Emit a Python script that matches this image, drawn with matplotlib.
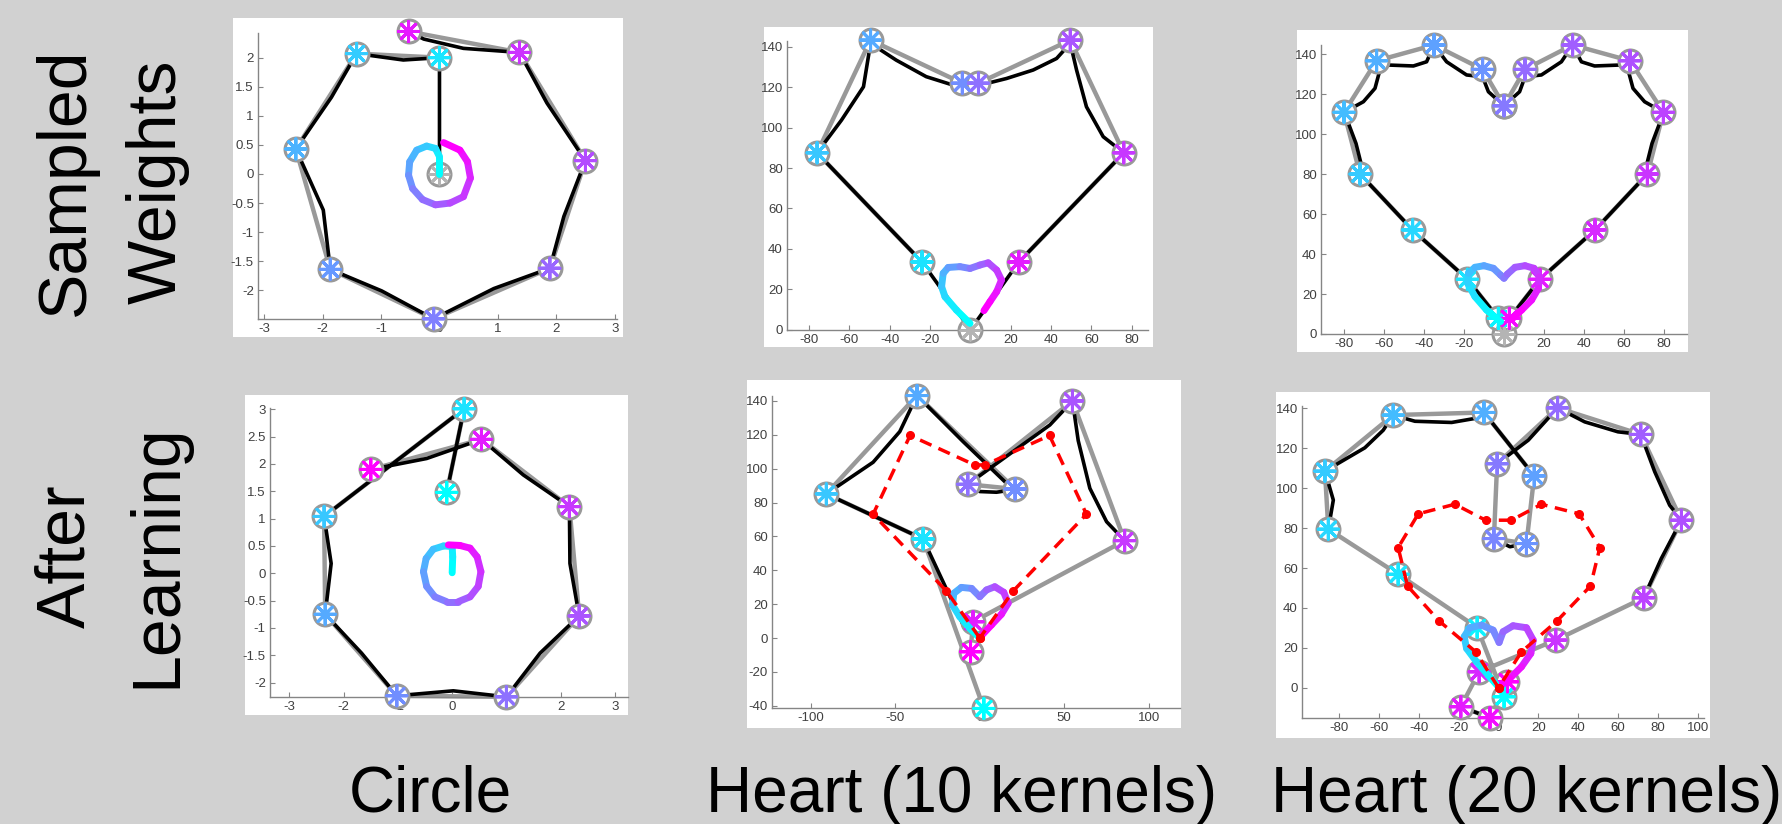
import matplotlib
matplotlib.use("Agg")
import matplotlib.pyplot as plt
import numpy as np
from matplotlib.collections import LineCollection
from matplotlib.patches import Rectangle
from matplotlib.ticker import FuncFormatter

plt.rcParams['font.family'] = ['Liberation Sans', 'DejaVu Sans']
plt.rcParams['axes.unicode_minus'] = False

# ---- Circle, sampled weights ----
circ_s_kx = [0.0, -1.42, -2.46, -1.87, -0.10, 1.89, 2.50, 1.37, -0.53]
circ_s_ky = [2.0, 2.07, 0.43, -1.64, -2.49, -1.62, 0.23, 2.09, 2.45]
circ_s_bx = [0, 0, -0.62, -1.42, -1.85, -2.46, -1.99, -1.87, -0.99, -0.10, 0.93, 1.89, 2.13, 2.50, 1.84, 1.37, 0.41, -0.27, -0.53]
circ_s_by = [0, 2.0, 1.96, 2.07, 1.32, 0.43, -0.62, -1.64, -2.01, -2.49, -1.97, -1.62, -0.73, 0.23, 1.22, 2.09, 2.16, 2.32, 2.45]
circ_s_tx = [0, 0, -0.07, -0.22, -0.39, -0.51, -0.53, -0.46, -0.29, -0.07, 0.18, 0.41, 0.53, 0.48, 0.35, 0.07]
circ_s_ty = [0, 0.30, 0.44, 0.48, 0.41, 0.21, -0.02, -0.25, -0.44, -0.53, -0.50, -0.39, -0.07, 0.21, 0.41, 0.54]

# ---- Heart 10 kernels, sampled weights ----
h10_s_kx = [-24.0, -76.0, -49.5, -4.0, 4.0, 49.5, 76.0, 24.0]
h10_s_ky = [33.5, 87.5, 143.3, 122.0, 122.0, 143.3, 87.5, 33.5]
h10_s_bx = [0, -24.0, -76.0, -63.9, -53.0, -49.5, -36.8, -21.9, -8.5, -0.2, 4.7, 17.9, 31.1, 42.7, 49.5, 52.6, 57.5, 65.8, 76.0, 24.0, 0]
h10_s_by = [0, 33.5, 87.5, 103.7, 120.2, 141.7, 133.4, 125.2, 121.0, 117.7, 121.0, 124.3, 128.5, 134.2, 141.7, 128.5, 110.3, 95.5, 87.5, 33.5, 0]
h10_s_tx = [-0.2, -6.9, -12.6, -14.3, -13.5, -11.0, -5.2, -0.2, 4.7, 8.8, 13.0, 15.4, 13.0, 9.7, 6.7]
h10_s_ty = [3.1, 9.7, 16.3, 21.3, 27.9, 30.8, 31.2, 30.3, 32.0, 33.1, 29.5, 24.6, 18.8, 13.9, 9.4]

# ---- Heart 20 kernels, sampled weights ----
h20_s_kx = [-2.8, -18.3, -45.7, -72.0, -80.0, -63.7, -35.0, -10.7, 0.0, 0.0, 10.5, 34.3, 63.0, 79.7, 71.7, 45.5, 18.0, 2.7]
h20_s_ky = [7.8, 27.4, 52.1, 80.1, 111.0, 136.8, 144.7, 132.5, 114.3, 114.3, 132.5, 144.7, 136.8, 111.0, 80.1, 52.1, 27.4, 7.8]
h20_s_bx = [0, -2.8, -18.3, -45.7, -72.0, -71.5, -74.0, -77.8, -80.0, -70.3, -64.5, -62.5, -63.7, -58.7, -45.3, -38.7,
            -35.0, -28.7, -18.7, -10.7, -7.8, 0, 7.8, 10.5, 18.7, 28.7, 34.3, 38.7, 45.3, 58.7, 63.0, 62.5, 64.5,
            70.3, 79.7, 77.8, 74.0, 71.5, 71.7, 45.5, 18.0, 2.7, 0]
h20_s_by = [0, 7.8, 27.4, 52.1, 80.1, 85.4, 95.4, 105.5, 111.0, 116.3, 123.0, 130.5, 136.8, 134.7, 134.2, 136.3,
            144.7, 136.3, 129.7, 128.8, 121.3, 114.3, 121.3, 128.8, 129.7, 136.3, 144.7, 136.3, 134.2, 134.7, 136.8,
            130.5, 123.0, 116.3, 111.0, 105.5, 95.4, 85.4, 80.1, 52.1, 27.4, 7.8, 0]
h20_s_tx = [-1.7, -8.7, -14.5, -18.2, -17.8, -14.5, -10.0, -5.3, -1.7, 0.0, 1.7, 5.5, 10.5, 15.0, 17.7, 17.2, 13.8, 8.8, 3.8]
h20_s_ty = [6.2, 12.0, 18.7, 25.4, 30.4, 33.4, 34.2, 32.9, 29.5, 27.9, 30.0, 33.4, 34.2, 32.9, 28.7, 22.9, 17.0, 12.0, 7.3]

# ---- Circle, after learning ----
circ_l_kx = [-0.10, 0.22, -2.36, -2.34, -1.02, 1.00, 2.34, 2.16, 0.54, -1.50]
circ_l_ky = [1.48, 3.01, 1.04, -0.75, -2.24, -2.26, -0.78, 1.22, 2.45, 1.90]
circ_l_bx = [-0.10, 0.22, -2.36, -2.23, -2.34, -1.67, -1.02, 0.02, 1.00, 1.62, 2.34, 2.17, 2.16, 1.31, 0.54, -0.47, -1.50]
circ_l_by = [1.48, 3.01, 1.04, 0.18, -0.75, -1.46, -2.24, -2.15, -2.26, -1.46, -0.78, 0.18, 1.22, 1.80, 2.45, 2.10, 1.90]
circ_l_tx = [0, 0.01, 0, -0.16, -0.35, -0.48, -0.53, -0.47, -0.32, -0.10, 0.11, 0.33, 0.48, 0.53, 0.46, 0.33, 0.14, -0.07]
circ_l_ty = [0.01, 0.30, 0.49, 0.50, 0.44, 0.27, 0.03, -0.24, -0.43, -0.52, -0.52, -0.43, -0.24, 0.03, 0.30, 0.46, 0.51, 0.52]

# ---- Heart 10 kernels, after learning ----
h10_l_kx = [2.4, -33.6, -90.9, -37.2, 20.9, -7.1, 54.9, 85.8, -4.0, -5.5]
h10_l_ky = [-41.6, 58.5, 85.1, 143.2, 88.0, 90.8, 140.0, 57.5, 9.6, -8.1]
h10_l_bx = [-8.9, -33.6, -90.9, -63.2, -47.4, -37.2, -9.9, 15.8, 18.8, 9.9, 0.0, -7.1, 23.7, 41.5, 54.9, 58.3, 65.2, 75.1, 85.8]
h10_l_by = [5.7, 58.5, 85.1, 103.8, 121.9, 143.2, 116.0, 91.4, 87.4, 86.1, 86.5, 90.8, 113.0, 125.8, 140.0, 116.6, 88.4, 68.7, 57.5]
h10_l_tx = [0, -5.9, -11.9, -16.2, -15.4, -10.9, -4.9, 0, 4.0, 8.9, 14.2, 16.8, 12.8, 6.9, 0.4]
h10_l_ty = [0, 5.7, 12.6, 19.5, 26.4, 29.9, 29.3, 24.4, 28.4, 30.3, 27.0, 20.5, 14.0, 7.7, 0.8]
h10_target_x = [0, -19.8, -63.2, -41.3, -3.0, 3.0, 41.3, 63.2, 19.8, 0]
h10_target_y = [0, 27.8, 73.1, 119.6, 102.2, 102.2, 119.6, 73.1, 27.8, 0]

# ---- Heart 20 kernels, after learning ----
h20_l_kx = [2.8, -10.7, -50.3, -85.3, -87.0, -52.8, -7.3, 17.9, 14.0, -2.3, -0.7, 29.6, 71.3, 91.7, 72.8, 28.7, -9.7, -18.9, -4.3, 4.5]
h20_l_ky = [-4.5, 30.2, 56.9, 79.5, 108.6, 136.7, 138.0, 106.2, 72.3, 74.8, 112.3, 140.3, 127.0, 84.0, 45.1, 23.9, 8.0, -9.5, -15.0, 3.0]
nan = np.nan
h20_l_bx = [-85.3, -82.8, -87.0, -67.0, -57.8, -52.8, -41.9, -23.5, -11.9, -7.3, 17.9, nan, 14.0, 5.7, -2.3, nan,
            -0.7, 14.9, 29.6, 43.2, 59.9, 71.3, 78.3, 85.8, 91.7, 81.6, 72.8, nan, -18.9, -4.3]
h20_l_by = [79.5, 94.1, 108.6, 120.3, 129.1, 136.7, 133.6, 133.0, 135.0, 138.0, 106.2, nan, 72.3, 70.7, 74.8, nan,
            112.3, 124.1, 140.3, 133.3, 128.3, 127.0, 108.3, 91.5, 84.0, 64.8, 45.1, nan, -9.5, -15.0]
h20_l_tx = [0, -5.2, -11.0, -16.0, -17.2, -14.4, -8.5, -2.7, 0.3, 2.3, 7.3, 14.0, 17.4, 16.2, 11.5, 5.7, 1.8]
h20_l_ty = [0.5, 6.3, 13.0, 19.7, 25.6, 30.1, 31.4, 28.9, 22.7, 28.1, 31.1, 30.1, 23.9, 17.2, 10.5, 4.7, 1.7]
h20_target_x = [0, -11.4, -29.7, -45.6, -50.3, -40.2, -21.9, -6.5, 6.5, 21.5, 40.4, 50.8, 46.1, 29.2, 11.5, 0]
h20_target_y = [0, 18.0, 33.4, 51.0, 70.3, 87.2, 92.0, 84.0, 84.0, 92.0, 87.2, 70.3, 51.0, 33.4, 18.0, 0]

row_labels = ["Sampled\nWeights", "After\nLearning"]
col_labels = ["Circle", "Heart (10 kernels)", "Heart (20 kernels)"]

W, H = 1783, 824
BG = '#d1d1d1'
GRAY = '#999999'
cmap = plt.get_cmap('cool')


def px_rect(x0, y0, x1, y1):
    return [x0 / W, 1 - y1 / H, (x1 - x0) / W, (y1 - y0) / H]


def draw_panel(ax, kx, ky, bx, by, tx, ty, sampled, target=None):
    n = len(kx)
    if sampled:
        cvals = np.arange(1, n + 1) / (n + 1)
    else:
        cvals = np.linspace(0, 1, n)
    ax.plot(kx, ky, color=GRAY, lw=3.2, zorder=2, clip_on=False,
            solid_joinstyle='round', solid_capstyle='round')
    ax.plot(bx, by, color='black', lw=2.6, zorder=3, clip_on=False,
            solid_joinstyle='round', solid_capstyle='round')
    if sampled:
        ax.plot([0], [0], 'o', ms=16.5, mfc='white', mec=GRAY, mew=2.2, zorder=4, clip_on=False)
        ax.scatter([0], [0], s=14 ** 2, marker=(8, 2, 0), color='#b4b4b4', linewidths=2.0,
                   zorder=5, clip_on=False)
    ax.plot(kx, ky, 'o', ms=16.5, mfc='white', mec=GRAY, mew=2.2, zorder=4, clip_on=False, ls='none')
    ax.scatter(kx, ky, s=14.5 ** 2, marker=(8, 2, 0), color=cmap(cvals), linewidths=2.2,
               zorder=5, clip_on=False)
    pts = np.column_stack([tx, ty])
    segs = np.stack([pts[:-1], pts[1:]], axis=1)
    lc = LineCollection(segs, colors=cmap(np.linspace(0, 1, len(segs))), linewidths=5.0,
                        capstyle='round', joinstyle='round', zorder=6, clip_on=False)
    ax.add_collection(lc)
    if target is not None:
        ax.plot(target[0], target[1], color='red', lw=2.5, dashes=(3.6, 2.2), zorder=7,
                marker='o', ms=5.5, clip_on=False)


fig = plt.figure(figsize=(W / 100, H / 100), dpi=100, facecolor=BG)

panels = [
    dict(white=(233, 18, 623, 337), axes=(258, 33, 617, 319), xlim=(-3.108, 3.04), ylim=(-2.493, 2.424),
         xt=(-3, 3, 1), yt=(-2, 2, 0.5),
         data=(circ_s_kx, circ_s_ky, circ_s_bx, circ_s_by, circ_s_tx, circ_s_ty, True, None)),
    dict(white=(764, 27, 1153, 347), axes=(787, 40.7, 1148, 329.7), xlim=(-90.9, 88.0), ylim=(0, 143.0),
         xt=(-80, 80, 20), yt=(0, 140, 20),
         data=(h10_s_kx, h10_s_ky, h10_s_bx, h10_s_by, h10_s_tx, h10_s_ty, True, None)),
    dict(white=(1297, 30, 1688, 352), axes=(1321, 45, 1687, 334), xlim=(-91.5, 91.5), ylim=(0, 144.7),
         xt=(-80, 80, 20), yt=(0, 140, 20),
         data=(h20_s_kx, h20_s_ky, h20_s_bx, h20_s_by, h20_s_tx, h20_s_ty, True, None)),
    dict(white=(245, 395, 628, 715), axes=(270, 408, 628, 697), xlim=(-3.357, 3.24), ylim=(-2.263, 3.024),
         xt=(-3, 3, 1), yt=(-2, 3, 0.5),
         data=(circ_l_kx, circ_l_ky, circ_l_bx, circ_l_by, circ_l_tx, circ_l_ty, False, None)),
    dict(white=(747, 380, 1181, 728), axes=(772, 395.7, 1180, 708.3), xlim=(-123.1, 118.6), ylim=(-41.5, 143.1),
         xt=(-100, 100, 50), yt=(-40, 140, 20),
         data=(h10_l_kx, h10_l_ky, h10_l_bx, h10_l_by, h10_l_tx, h10_l_ty, False, (h10_target_x, h10_target_y))),
    dict(white=(1276, 392, 1710, 738), axes=(1302, 405.7, 1704, 717.7), xlim=(-98.5, 103.0), ylim=(-15.0, 141.4),
         xt=(-80, 100, 20), yt=(0, 140, 20),
         data=(h20_l_kx, h20_l_ky, h20_l_bx, h20_l_by, h20_l_tx, h20_l_ty, False, (h20_target_x, h20_target_y))),
]

for p in panels:
    r = px_rect(*p['white'])
    fig.patches.append(Rectangle(r[:2], r[2], r[3], transform=fig.transFigure,
                                 facecolor='white', edgecolor='none', zorder=-5))
    ax = fig.add_axes(px_rect(*p['axes']))
    ax.set_facecolor('none')
    ax.set_xlim(*p['xlim'])
    ax.set_ylim(*p['ylim'])
    x0, x1, dx = p['xt']
    y0, y1, dy = p['yt']
    ax.set_xticks(np.arange(x0, x1 + dx / 2, dx))
    ax.set_yticks(np.arange(y0, y1 + dy / 2, dy))
    fmt = FuncFormatter(lambda v, pos: '%g' % round(v, 3))
    ax.xaxis.set_major_formatter(fmt)
    ax.yaxis.set_major_formatter(fmt)
    for s in ('top', 'right'):
        ax.spines[s].set_visible(False)
    for s in ('left', 'bottom'):
        ax.spines[s].set_color('#858585')
        ax.spines[s].set_linewidth(1.0)
    ax.tick_params(direction='in', length=3.5, width=0.8, color='#858585', labelsize=9.5,
                   labelcolor='#404040', pad=3)
    draw_panel(ax, *p['data'])

fig.text(112 / W, 1 - 182 / H, row_labels[0], rotation=90, ha='center', va='center',
         fontsize=49, linespacing=1.55, multialignment='center')
fig.text(112 / W, 1 - 556 / H, row_labels[1], rotation=90, ha='center', va='center',
         fontsize=49, linespacing=1.55, multialignment='center')

for label, cx in zip(col_labels, [430, 962, 1527]):
    fig.text(cx / W, 1 - 812 / H, label, ha='center', va='baseline', fontsize=46)

fig.savefig('out.png', dpi=100, facecolor=BG)
